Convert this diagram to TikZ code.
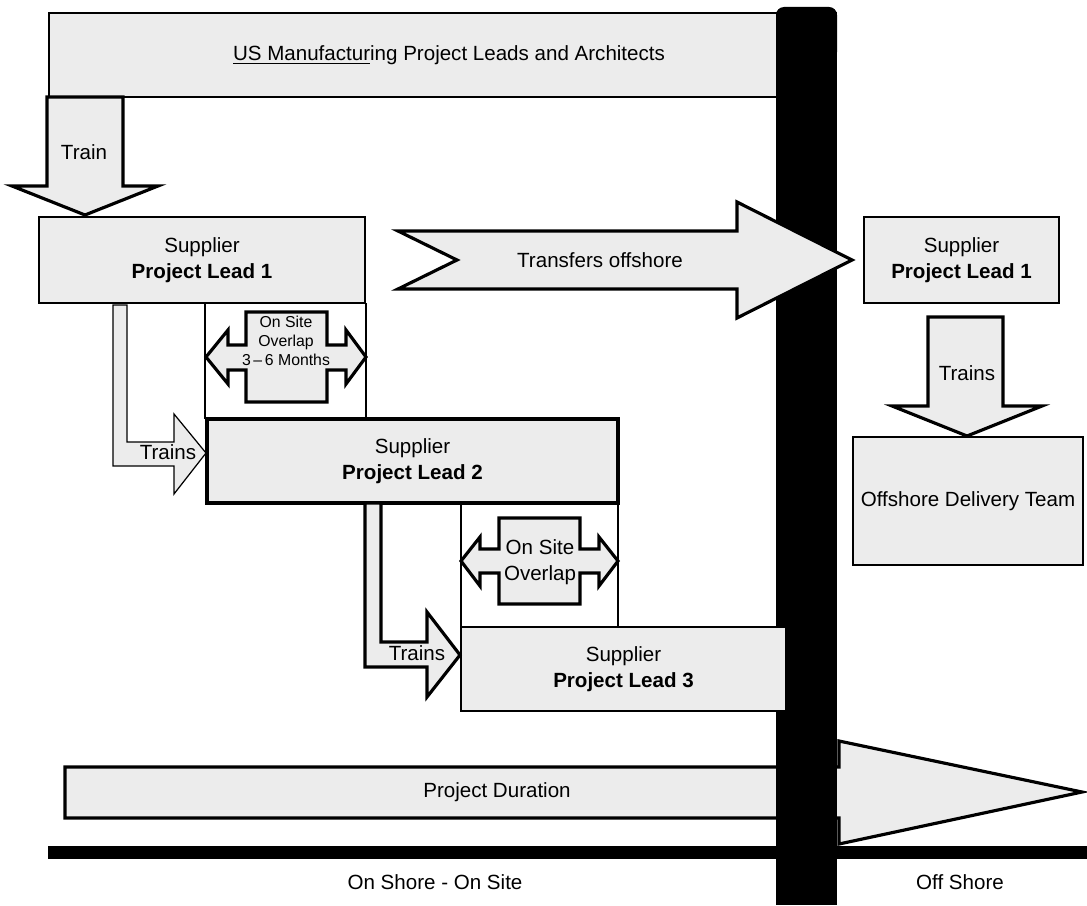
\documentclass[tikz,border=0pt]{standalone}
\usepackage{fontspec}
\setmainfont{Liberation Sans}
\usetikzlibrary{fit}
\definecolor{boxgray}{RGB}{236,236,236}
\tikzset{
every picture/.style={
line width=0.6pt
}}

\begin{document}
\begin{tikzpicture}[x=0.02cm, y=-0.02cm,
font=\fontsize{11.7}{14.6}\selectfont,
box/.style = {rectangle, draw=black, fill=boxgray, inner sep=0pt},
thickbox/.style = {box, line width=1.8pt},
bigarrow/.style = {draw=black, line width=1.8pt, fill=boxgray},
thinarrow/.style = {draw=black, line width=0.7pt, fill=boxgray},
smalltext/.style = {font=\fontsize{9}{10.8}\selectfont, align=center}]

\useasboundingbox (0,0) rectangle (1087,905);

\node[box, fit={(49,13) (836,97)}] (leads) {};
\node (leadstext) at (449,55) {\underline{US Manufactur}ing Project Leads and Architects};

% project duration and the shore line
\draw[bigarrow] (65,767) -- (839,767) -- (839,741) -- (1082,792) -- (839,844) -- (839,818) -- (65,818) -- cycle;
\node (duration) at (497,792) {Project Duration};
\fill (48,846) rectangle (1087,859);

% the wall between on shore and off shore
\fill[rounded corners=0.16cm] (776,7) rectangle (837,60);
\fill (776,30) rectangle (837,905);

\draw[bigarrow] (398,231) -- (737,231) -- (737,202) -- (852,260) -- (737,318)
-- (737,289) -- (398,289) -- (457,260) -- cycle;
\node (transfer) at (600,260) {Transfers offshore};

\node[box, fit={(39,217) (365,303)}] (lead1) {};
\node[thickbox, fit={(207,419) (618,503)}] (lead2) {};
\node[box, fit={(461,627) (786,711)}] (lead3) {};
\node[box, fit={(864,217) (1059,303)}] (offlead1) {};
\node[box, fit={(853,437) (1083,565)}] (team) {};
\node[align=center] (lead1text) at (lead1.center) {Supplier\\\textbf{Project Lead 1}};
\node[align=center] (lead2text) at (lead2.center) {Supplier\\\textbf{Project Lead 2}};
\node[align=center] (lead3text) at (lead3.center) {Supplier\\\textbf{Project Lead 3}};
\node[align=center] (offlead1text) at (offlead1.center) {Supplier\\\textbf{Project Lead 1}};
\node (teamtext) at (team.center) {Offshore Delivery Team};

\draw[bigarrow] (47,97) -- (123,97) -- (123,186) -- (158,186) -- (85,215) -- (12,186) -- (47,186) -- cycle;
\node (train) at (84,152) {Train};

\draw[bigarrow] (928,317) -- (1003,317) -- (1003,406) -- (1042,406) -- (967,436) -- (892,406) -- (928,406) -- cycle;
\node (trains3) at (967,373) {Trains};

\draw[thinarrow] (113,305) -- (127,305) -- (127,442) -- (174,442) -- (174,414) -- (206,453)
-- (174,494) -- (174,466) -- (113,466) -- cycle;
\node (trains1) at (168,452) {Trains};

\draw[bigarrow] (365,503) -- (381,503) -- (381,642) -- (427,642) -- (427,612) -- (460,655)
-- (427,697) -- (427,667) -- (365,667) -- cycle;
\node (trains2) at (417,653) {Trains};

% overlaps
\draw[line width=0.8pt] (205,303) -- (205,419) (366,303) -- (366,419);
\draw[bigarrow] (246,312) -- (327,312) -- (327,345) -- (346,345) -- (346,330) -- (366,357)
-- (346,384) -- (346,370) -- (327,370) -- (327,402) -- (246,402) -- (246,370)
-- (228,370) -- (228,384) -- (206,357) -- (228,330) -- (228,345) -- (246,345) -- cycle;
\node[smalltext] (overlap1) at (286,341) {On Site\\Overlap\\3\,--\,6 Months};

\draw[line width=0.8pt] (461,503) -- (461,627) (618,503) -- (618,627);
\draw[bigarrow] (499,518) -- (580,518) -- (580,549) -- (599,549) -- (599,537) -- (618,561)
-- (599,586) -- (599,573) -- (580,573) -- (580,604) -- (499,604) -- (499,573)
-- (480,573) -- (480,586) -- (461,561) -- (480,537) -- (480,549) -- (499,549) -- cycle;
\node[align=center] (overlap2) at (540,562) {On Site\\Overlap};

\node (onshore) at (435,882) {On Shore - On Site};
\node (offshore) at (960,882) {Off Shore};

\end{tikzpicture}
\end{document}
